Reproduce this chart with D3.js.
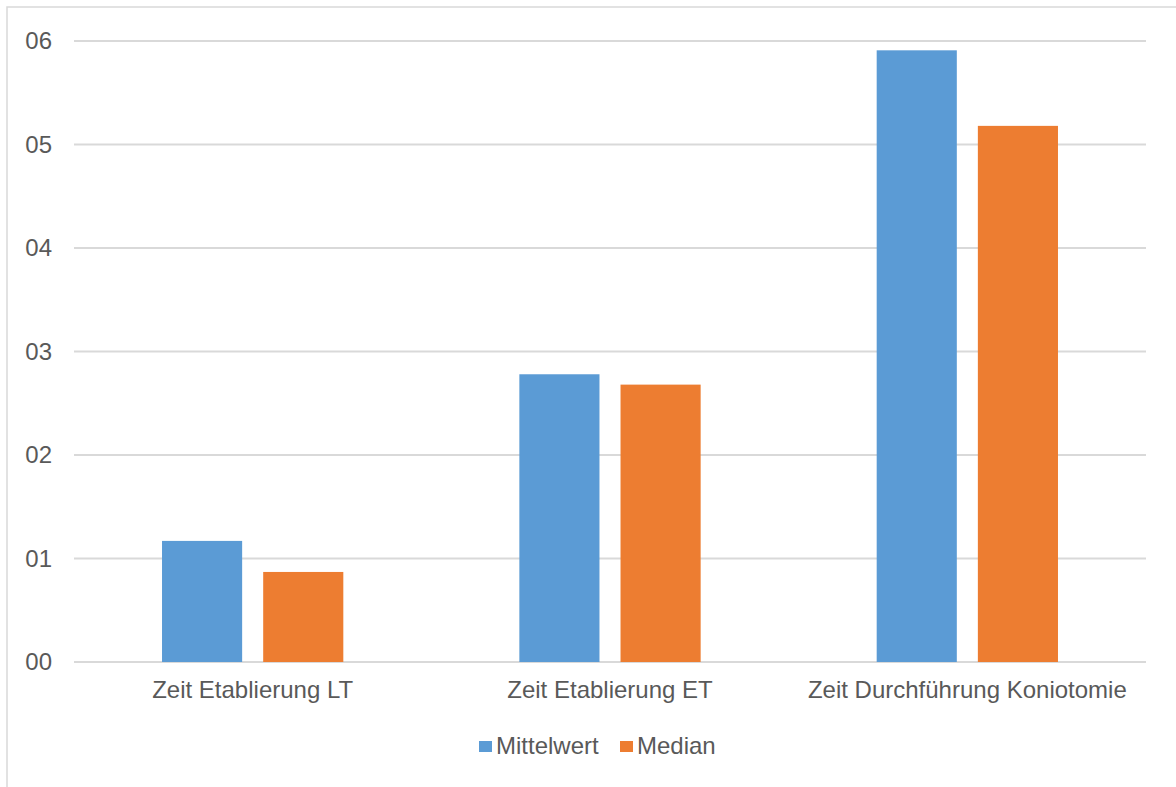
<!DOCTYPE html>
<html>
<head>
<meta charset="utf-8">
<script src="https://cdn.jsdelivr.net/npm/d3@7"></script>
<style>
  body { margin: 0; background: #fff; }
  svg { display: block; font-family: "Liberation Sans", Arial, sans-serif; }
</style>
</head>
<body>
<div id="chart"></div>
<script>
// data
const categories = ["Zeit Etablierung LT", "Zeit Etablierung ET", "Zeit Durchführung Koniotomie"];
const seriesNames = ["Mittelwert", "Median"];
const mittelwert = [1.17, 2.78, 5.91];
const median = [0.87, 2.68, 5.18];
const tickValues = [0, 1, 2, 3, 4, 5, 6];
const tickLabels = ["00", "01", "02", "03", "04", "05", "06"];
const colors = ["#5b9bd5", "#ed7d31"];

const width = 1176, height = 787;
const margin = { top: 41, right: 30, bottom: 125, left: 74 };

const svg = d3.select("#chart")
    .append("svg")
    .attr("width", width)
    .attr("height", height);

// outer chart border (cut off at right/bottom like the reference)
svg.append("rect")
    .attr("x", 7).attr("y", 7)
    .attr("width", width + 20).attr("height", height + 20)
    .attr("fill", "none")
    .attr("stroke", "#d9d9d9")
    .attr("stroke-width", 1.5);

const x0 = d3.scaleBand()
    .domain(categories)
    .range([margin.left, width - margin.right])
    .paddingInner(0)
    .paddingOuter(0);

const x1 = d3.scaleBand()
    .domain(seriesNames)
    .range([0, x0.bandwidth()])
    .paddingInner(0.208)
    .paddingOuter(0.87);

const y = d3.scaleLinear()
    .domain([0, 6])
    .range([height - margin.bottom, margin.top]);

// gridlines
svg.append("g")
    .selectAll("line")
    .data(tickValues)
    .join("line")
    .attr("x1", margin.left)
    .attr("x2", width - margin.right)
    .attr("y1", d => y(d))
    .attr("y2", d => y(d))
    .attr("stroke", "#d9d9d9")
    .attr("stroke-width", 2);

// y axis labels
const yAxis = svg.append("g")
    .attr("transform", `translate(${margin.left - 22},0)`)
    .call(d3.axisLeft(y).tickValues(tickValues).tickFormat((d, i) => tickLabels[i]).tickSize(0).tickPadding(0));
yAxis.select(".domain").remove();
yAxis.selectAll("text")
    .attr("font-size", "24px")
    .attr("font-family", "'Liberation Sans', Arial, sans-serif")
    .attr("fill", "#595959")
    .attr("dy", "0.33em");

// bars
const rows = categories.map((c, i) => ({ cat: c, values: [mittelwert[i], median[i]] }));

svg.append("g")
    .selectAll("g")
    .data(rows)
    .join("g")
    .attr("transform", d => `translate(${x0(d.cat)},0)`)
    .selectAll("rect")
    .data(d => d.values.map((v, j) => ({ key: seriesNames[j], value: v, idx: j })))
    .join("rect")
    .attr("x", d => x1(d.key))
    .attr("y", d => y(d.value))
    .attr("width", x1.bandwidth())
    .attr("height", d => y(0) - y(d.value))
    .attr("fill", d => colors[d.idx]);

// x axis labels
const xAxis = svg.append("g")
    .attr("transform", `translate(0,${y(0)})`)
    .call(d3.axisBottom(x0).tickSize(0).tickPadding(0));
xAxis.select(".domain").remove();
xAxis.selectAll("text")
    .attr("font-size", "24px")
    .attr("font-family", "'Liberation Sans', Arial, sans-serif")
    .attr("fill", "#595959")
    .attr("dy", null)
    .attr("y", 36);

// legend
const legend = svg.append("g").attr("font-size", "24px").attr("fill", "#595959");
const legendX = [479, 620];
seriesNames.forEach((name, i) => {
    legend.append("rect")
        .attr("x", legendX[i]).attr("y", 741)
        .attr("width", 13).attr("height", 11)
        .attr("fill", colors[i]);
    legend.append("text")
        .attr("x", legendX[i] + 17).attr("y", 754)
        .attr("fill", "#595959")
        .text(name);
});
</script>
</body>
</html>
